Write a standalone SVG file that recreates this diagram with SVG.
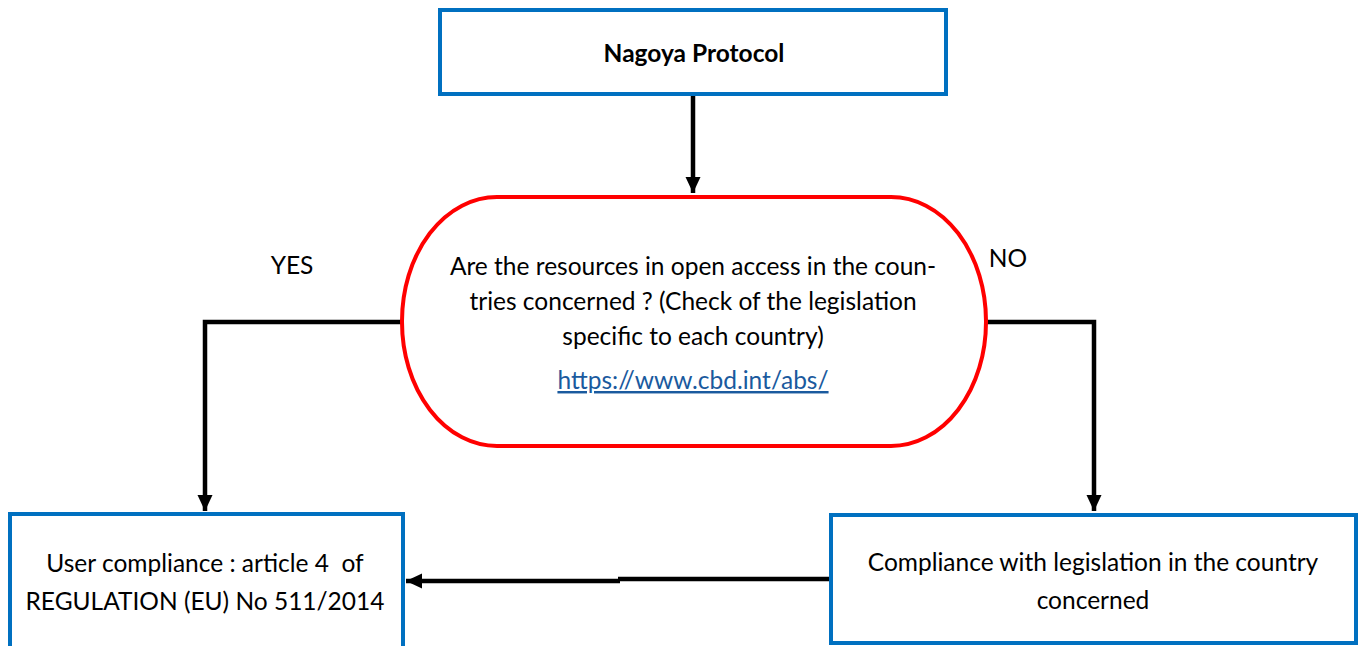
<svg xmlns="http://www.w3.org/2000/svg" width="1360" height="646" viewBox="0 0 1360 646">
<style>
.box{fill:#fff;stroke:#0070C0;stroke-width:4}
.dec{fill:#fff;stroke:#FF0000;stroke-width:4}
.t{font-family:Lato,"Liberation Sans",sans-serif;font-size:24.5px;fill:#000;text-anchor:middle}
.b{font-weight:bold}
.link{fill:#1a5a9e;text-decoration:underline}
.con{fill:none;stroke:#000;stroke-width:4.5}
</style>
<defs>
<marker id="ah" markerUnits="userSpaceOnUse" markerWidth="18" markerHeight="18" viewBox="0 0 18 18" refX="16" refY="9" orient="auto">
<path d="M0,1.5 L16,9 L0,16.5 Z" fill="#000"/>
</marker>
</defs>
<rect width="1360" height="646" fill="#fff"/>
<g id="connectors">
<path class="con" d="M693,96 V193" marker-end="url(#ah)"/>
<path class="con" d="M401,322 H205 V511" marker-end="url(#ah)"/>
<path class="con" d="M987,322 H1094 V511" marker-end="url(#ah)"/>
<path class="con" d="M830,579 H618 M620,581 H406" marker-end="url(#ah)"/>
</g>
<g id="label-yes"><text class="t" x="292" y="274">YES</text></g>
<g id="label-no"><text class="t" x="1008" y="267">NO</text></g>
<g id="node-nagoya">
<rect class="box" x="440" y="10" width="506" height="84"/>
<text class="t b" x="694" y="62">Nagoya Protocol</text>
</g>
<g id="node-question">
<rect class="dec" x="402" y="197" width="584" height="249" rx="95" ry="124"/>
<text class="t" x="693" y="275">Are the resources in open access in the coun-</text>
<text class="t" x="693" y="310">tries concerned ? (Check of the legislation</text>
<text class="t" x="693" y="345">specific to each country)</text>
<text class="t link" x="693" y="389">https://www.cbd.int/abs/</text>
</g>
<g id="node-user">
<rect class="box" x="10" y="514" width="393" height="140"/>
<text class="t" x="205" y="572" xml:space="preserve">User compliance : article 4  of</text>
<text class="t" x="205" y="610">REGULATION (EU) No 511/2014</text>
</g>
<g id="node-country">
<rect class="box" x="831" y="515" width="525" height="128"/>
<text class="t" x="1093" y="571">Compliance with legislation in the country</text>
<text class="t" x="1093" y="609">concerned</text>
</g>
</svg>
